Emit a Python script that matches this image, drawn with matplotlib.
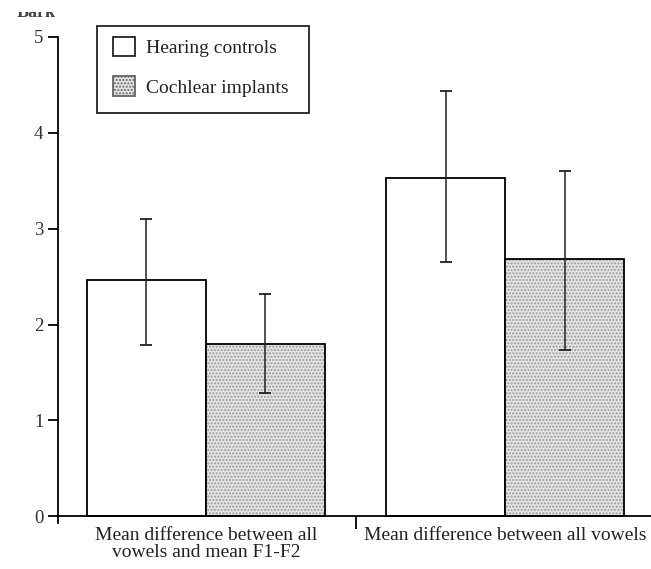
import matplotlib
matplotlib.use("Agg")
import matplotlib.pyplot as plt
import matplotlib.patches as mpatches
import numpy as np

plt.rcParams['font.family'] = ['Liberation Serif', 'DejaVu Serif']

# data (Bark)
groups = ["Mean difference between all\nvowels and mean F1-F2",
          "Mean difference between all vowels"]
hearing = [2.46, 3.53]
hearing_lo = [1.79, 2.65]
hearing_hi = [3.10, 4.44]
implants = [1.80, 2.68]
implants_lo = [1.29, 1.73]
implants_hi = [2.32, 3.60]

W, H = 651, 569
fig = plt.figure(figsize=(W / 100, H / 100), dpi=100)
ax = fig.add_axes([0.089, 0.081, 0.911, 0.854])

x = np.arange(len(groups))
w = 0.398

# hearing controls: white bars
ax.bar(x - w / 2, hearing, w, color='white', edgecolor='black', linewidth=1.3, zorder=2)
# cochlear implants: dotted grey bars
ax.bar(x + w / 2, implants, w, color='#e4e4e4', edgecolor='#9a9a9a', hatch='.....',
       linewidth=0, zorder=2)
ax.bar(x + w / 2, implants, w, color='none', edgecolor='black', linewidth=1.3, zorder=3)

h_err = [np.array(hearing) - np.array(hearing_lo), np.array(hearing_hi) - np.array(hearing)]
i_err = [np.array(implants) - np.array(implants_lo), np.array(implants_hi) - np.array(implants)]
ax.errorbar(x - w / 2, hearing, yerr=h_err, fmt='none', ecolor='#222222', elinewidth=1.1,
            capsize=4.5, capthick=1.3, zorder=4)
ax.errorbar(x + w / 2, implants, yerr=i_err, fmt='none', ecolor='#222222', elinewidth=1.1,
            capsize=4.5, capthick=1.3, zorder=4)

ax.set_xlim(-0.495, 1.488)
ax.set_ylim(-0.07, 5)
for s in ['top', 'right']:
    ax.spines[s].set_visible(False)
ax.spines['bottom'].set_position(('data', 0))
ax.spines['left'].set_linewidth(1.3)
ax.spines['bottom'].set_linewidth(1.3)

ax.set_yticks([0, 1, 2, 3, 4, 5])
ax.tick_params(axis='y', direction='out', length=7.5, width=1.3, labelsize=13.5, pad=3,
               labelcolor='#333333')
ax.set_xticks(x)
ax.set_xticklabels(groups, fontsize=14, linespacing=0.95, color='#222222')
ax.tick_params(axis='x', which='major', length=0, pad=8)
ax.set_xticks([0.5], minor=True)
ax.tick_params(axis='x', which='minor', direction='out', length=9, width=1.3)

# axis unit label, cut off at the top like the scan
fig.text(36 / W, 1 - 17 / H, "Bark", fontsize=13, ha='center', va='baseline',
         fontweight='bold', color='#444444')
fig.patches.append(mpatches.Rectangle((0, 1 - 12 / H), 0.2, 12 / H, transform=fig.transFigure,
                                      facecolor='white', edgecolor='none', zorder=5))

handles = [mpatches.Patch(facecolor='white', edgecolor='#222222', linewidth=1.3),
           mpatches.Patch(facecolor='#e4e4e4', edgecolor='#666666', hatch='.....', linewidth=1.3)]
leg = fig.legend(handles, ["Hearing controls", "Cochlear implants"], loc='upper left',
                 bbox_to_anchor=(113 / W, 1 - 37 / H), borderaxespad=0, borderpad=0,
                 fontsize=14, frameon=False,
                 handlelength=1.15, handleheight=1.15, labelspacing=0.98,
                 handletextpad=0.55)
for t in leg.get_texts():
    t.set_color('#222222')
# legend frame
fig.patches.append(mpatches.Rectangle((97 / W, 1 - 113 / H), 212 / W, 87 / H,
                                      transform=fig.transFigure, fill=False,
                                      edgecolor='#222222', linewidth=1.3))

fig.savefig("out.png", dpi=100)
